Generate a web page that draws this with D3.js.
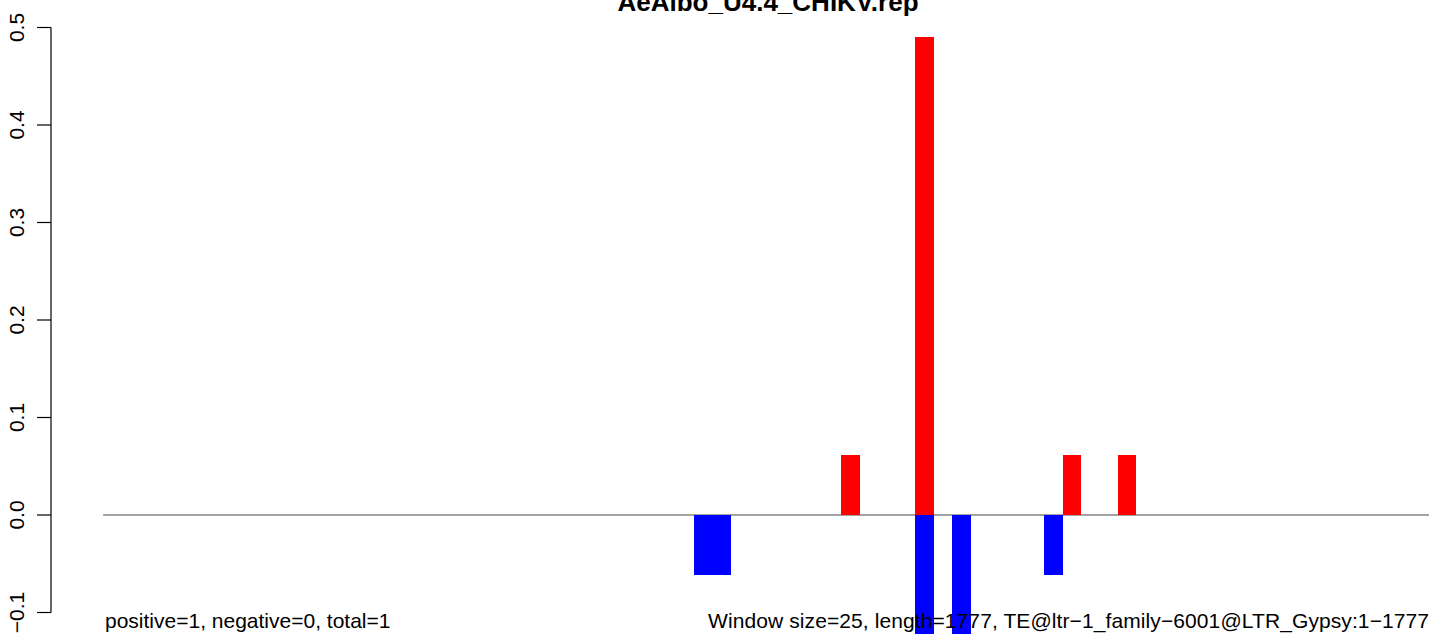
<!DOCTYPE html>
<html>
<head>
<meta charset="utf-8">
<script src="https://cdn.jsdelivr.net/npm/d3@7"></script>
<style>
  html, body { margin: 0; padding: 0; background: #fff; }
  svg { display: block; font-family: "Liberation Sans", Arial, Helvetica, sans-serif; }
</style>
</head>
<body>
<svg id="chart" width="1429" height="639"></svg>
<script>
// ---- data ----
const title = "AeAlbo_U4.4_CHIKV.rep";
const binCount = 72;                       // window bins along the TE
const positiveBins   = [40, 44, 52, 55];
const positiveValues = [0.0615, 0.49, 0.0615, 0.0615];
const negativeBins   = [32, 33, 44, 46, 51];
const negativeValues = [-0.0615, -0.0615, -0.122, -0.122, -0.0615];
const yTicks = [-0.1, 0.0, 0.1, 0.2, 0.3, 0.4, 0.5];
const leftNote  = "positive=1, negative=0, total=1";
const rightNote = "Window size=25, length=1777, TE@ltr\u22121_family\u22126001@LTR_Gypsy:1\u22121777";

// ---- layout ----
const W = 1429, H = 639;
const svg = d3.select("#chart");

const x = d3.scaleLinear().domain([0, binCount]).range([104.1, 1431.4]);
const y = d3.scaleLinear().domain([-0.1, 0.5]).range([612.5, 27.5]);
const bw = x(1) - x(0);

// baseline
svg.append("line")
  .attr("x1", x(0) - 1).attr("x2", W)
  .attr("y1", y(0)).attr("y2", y(0))
  .attr("stroke", "#a3a3a3").attr("stroke-width", 2);

// positive bars
svg.selectAll("rect.pos")
  .data(positiveBins.map((b, i) => ({ b, v: positiveValues[i] })))
  .enter().append("rect")
  .attr("class", "pos")
  .attr("x", d => Math.round(x(d.b)))
  .attr("width", d => Math.round(x(d.b + 1)) - Math.round(x(d.b)))
  .attr("y", d => y(d.v))
  .attr("height", d => y(0) - y(d.v))
  .attr("shape-rendering", "crispEdges")
  .attr("fill", "#ff0000");

// negative bars
svg.selectAll("rect.neg")
  .data(negativeBins.map((b, i) => ({ b, v: negativeValues[i] })))
  .enter().append("rect")
  .attr("class", "neg")
  .attr("x", d => Math.round(x(d.b)))
  .attr("width", d => Math.round(x(d.b + 1)) - Math.round(x(d.b)))
  .attr("y", y(0))
  .attr("height", d => y(d.v) - y(0))
  .attr("shape-rendering", "crispEdges")
  .attr("fill", "#0000ff");

// y axis (R style)
const axisG = svg.append("g").attr("transform", "translate(51,0)");
axisG.append("line")
  .attr("x1", 0).attr("x2", 0)
  .attr("y1", y(yTicks[0])).attr("y2", y(yTicks[yTicks.length - 1]))
  .attr("stroke", "#000").attr("stroke-width", 1.2);
axisG.selectAll("line.tick")
  .data(yTicks).enter().append("line")
  .attr("class", "tick")
  .attr("x1", -14).attr("x2", 0)
  .attr("y1", d => y(d)).attr("y2", d => y(d))
  .attr("stroke", "#000").attr("stroke-width", 1.2);
axisG.selectAll("text.tl")
  .data(yTicks).enter().append("text")
  .attr("class", "tl")
  .attr("transform", d => `translate(-27,${y(d)}) rotate(-90)`)
  .attr("text-anchor", "middle")
  .attr("font-size", 21)
  .attr("fill", "#000")
  .text(d => (d < 0 ? "\u2212" : "") + Math.abs(d).toFixed(1));

// title (cut at the top edge, as in the reference)
svg.append("text")
  .attr("x", 768).attr("y", 11)
  .attr("text-anchor", "middle")
  .attr("font-size", 26)
  .attr("font-weight", "bold")
  .attr("fill", "#000")
  .text(title);

// bottom notes
svg.append("text")
  .attr("x", 105).attr("y", 628)
  .attr("font-size", 21)
  .attr("fill", "#000")
  .text(leftNote);

svg.append("text")
  .attr("x", 708).attr("y", 628)
  .attr("font-size", 21)
  .attr("fill", "#000")
  .attr("textLength", 721)
  .attr("lengthAdjust", "spacing")
  .text(rightNote);
</script>
</body>
</html>
